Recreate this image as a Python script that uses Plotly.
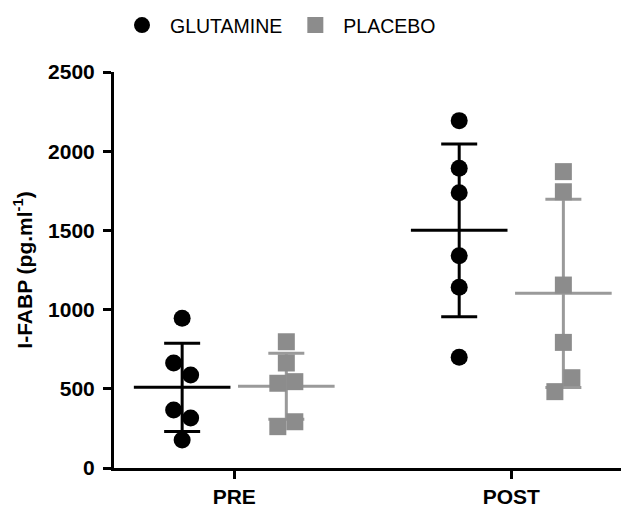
import numpy as np
import plotly.graph_objects as go

# I-FABP concentrations (pg/ml) per participant
timepoints = ["PRE", "POST"]
glutamine_pre = [945, 663, 587, 366, 316, 177]
glutamine_post = [2193, 1892, 1738, 1340, 1141, 699]
placebo_pre = [797, 663, 535, 545, 261, 292]
placebo_post = [1871, 1744, 1155, 793, 482, 570]

groups = [
    ("GLUTAMINE", [glutamine_pre, glutamine_post], "black", "black", "circle", -0.188),
    ("PLACEBO", [placebo_pre, placebo_post], "#8c8c8c", "#9a9a9a", "square", 0.188),
]

# layout geometry (px)
W, H = 621, 509
ML, MR, MT, MB = 114, 0, 72, 41
X_RANGE = [0.566, 2.396]
Y_RANGE = [0, 2500]
MARKER = 17
px_per_x = (W - ML - MR) / (X_RANGE[1] - X_RANGE[0])
units_per_px_y = (Y_RANGE[1] - Y_RANGE[0]) / (H - MT - MB)
collide = MARKER * units_per_px_y * 0.98
step = MARKER / px_per_x


def spread(values, centre):
    """Column-scatter layout: neighbouring values that would overlap sit side by side."""
    xs = [centre] * len(values)
    i = 0
    while i < len(values):
        j = i
        while j + 1 < len(values) and abs(values[j + 1] - values[j]) < collide:
            j += 1
        n = j - i + 1
        for k in range(n):
            xs[i + k] = centre + (k - (n - 1) / 2) * step
        i = j + 1
    return xs


fig = go.Figure()

for name, series, mcolor, lcolor, symbol, offset in groups:
    centres = [t + 1 + offset for t in range(len(timepoints))]
    means = [float(np.mean(v)) for v in series]
    sds = [float(np.std(v, ddof=1)) for v in series]

    # mean ± SD bars
    fig.add_trace(go.Scatter(
        x=centres, y=means, mode="markers", showlegend=False, hoverinfo="skip",
        marker=dict(symbol="line-ew", size=69, color=lcolor,
                    line=dict(color=lcolor, width=3)),
        error_y=dict(type="data", array=sds, visible=True, color=lcolor,
                     thickness=3, width=18),
    ))

for name, series, mcolor, lcolor, symbol, offset in groups:
    xs, ys = [], []
    for t, values in enumerate(series):
        xs += spread(values, t + 1 + offset)
        ys += values
    fig.add_trace(go.Scatter(
        x=xs, y=ys, mode="markers", name=name,
        marker=dict(symbol=symbol, size=MARKER, color=mcolor, line=dict(width=0)),
    ))

fig.update_layout(
    width=W, height=H,
    margin=dict(l=ML, r=MR, t=MT, b=MB),
    plot_bgcolor="white", paper_bgcolor="white",
    font=dict(family="Liberation Sans, Arial, sans-serif", color="black"),
    legend=dict(orientation="h", x=0.0, y=1.167, xanchor="left", yanchor="top",
                font=dict(size=19.5), itemwidth=46, tracegroupgap=0),
    xaxis=dict(
        range=X_RANGE, tickvals=[1, 2], ticktext=timepoints,
        showline=True, linewidth=3, linecolor="black",
        ticks="outside", ticklen=8, tickwidth=3, tickcolor="black",
        tickfont=dict(size=21, weight="bold"), showgrid=False, zeroline=False,
    ),
    yaxis=dict(
        range=Y_RANGE, tickvals=[0, 500, 1000, 1500, 2000, 2500],
        showline=True, linewidth=3, linecolor="black",
        ticks="outside", ticklen=8, tickwidth=3, tickcolor="black",
        ticklabelstandoff=4,
        tickfont=dict(size=21, weight="bold"), showgrid=False, zeroline=False,
        title=dict(text="I-FABP (pg.ml<sup>-1</sup>)", font=dict(size=21, weight="bold"),
                   standoff=10),
    ),
)

fig.write_html("out.html")
